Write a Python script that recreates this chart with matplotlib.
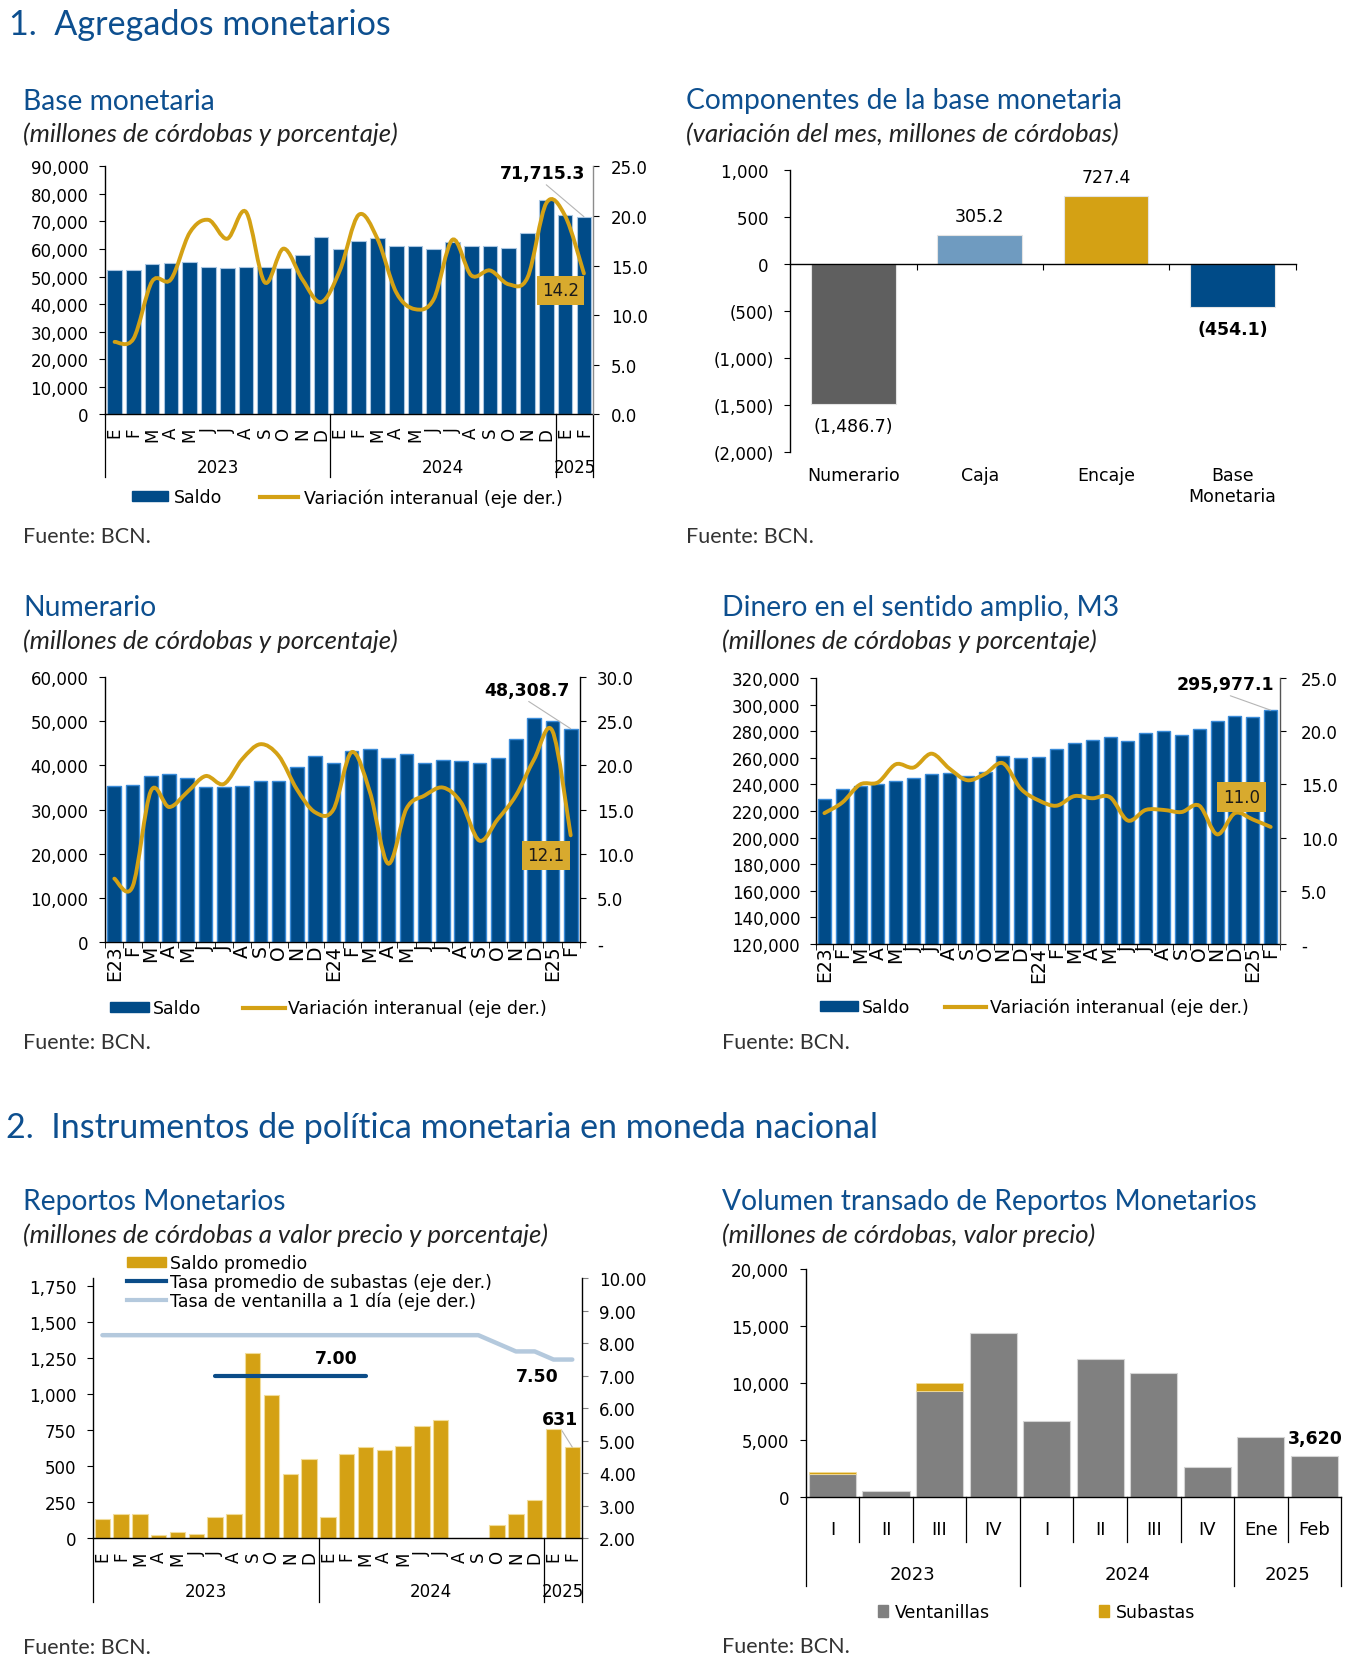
import numpy as np
import matplotlib
matplotlib.use("Agg")
import matplotlib.pyplot as plt
import matplotlib.ticker as ticker
from matplotlib.path import Path
from matplotlib.patches import PathPatch, Patch
from matplotlib.lines import Line2D

# ---------------- data ----------------
months = ['E', 'F', 'M', 'A', 'M', 'J', 'J', 'A', 'S', 'O', 'N', 'D']
month_labels = months + months + ['E', 'F']
month_labels_yr = ['E23'] + months[1:] + ['E24'] + months[1:] + ['E25', 'F']
years = ['2023', '2024', '2025']

base_saldo = [52500, 52300, 54400, 54800, 55400, 53500, 53100, 53500, 53500, 53200,
              57800, 64300, 60000, 62900, 64000, 61100, 61100, 60000, 62400, 61000,
              61100, 60200, 65700, 77700, 72200, 71715.3]
base_var = [7.3, 7.6, 13.4, 13.6, 18.3, 19.6, 17.7, 20.4, 13.3, 16.7, 13.6, 11.3, 14.5,
            20.1, 17.7, 12.3, 10.6, 11.6, 17.6, 14.0, 14.5, 13.1, 13.8, 21.3, 20.0, 14.2]

comp_cats = ['Numerario', 'Caja', 'Encaje', 'Base\nMonetaria']
comp_vals = [-1486.7, 305.2, 727.4, -454.1]
comp_labels = ['(1,486.7)', '305.2', '727.4', '(454.1)']

num_saldo = [35300, 35600, 37500, 38100, 37200, 35100, 35100, 35400, 36400, 36500,
             39700, 42200, 40500, 43200, 43800, 41600, 42600, 40600, 41200, 41100,
             40500, 41600, 46000, 50700, 50000, 48308.7]
num_var = [7.2, 6.3, 17.1, 15.3, 17.0, 18.8, 17.9, 20.7, 22.4, 21.1, 17.3, 14.7, 15.0,
           21.5, 17.0, 8.9, 15.1, 16.6, 17.5, 15.8, 11.5, 13.9, 16.6, 20.7, 23.9, 12.1]

m3_saldo = [229300, 236300, 238600, 240600, 242600, 244900, 247600, 248900, 246600, 249600,
            261200, 259900, 260500, 266700, 271000, 273800, 276000, 273000, 278500, 280000,
            277500, 281600, 288100, 291400, 290900, 295977.1]
m3_var = [12.3, 13.3, 15.0, 15.2, 16.9, 16.6, 17.9, 16.5, 15.4, 16.0, 17.0, 14.6, 13.5,
          13.0, 13.9, 13.7, 13.8, 11.6, 12.6, 12.6, 12.4, 13.0, 10.3, 12.3, 11.7, 11.0]

rep_saldo = [135, 168, 166, 23, 44, 28, 150, 166, 1285, 992, 442, 548, 150, 587, 635,
             608, 642, 778, 820, 5, 0, 92, 170, 265, 755, 631]
nan = np.nan
rep_subasta = [nan, nan, nan, nan, nan, nan, 7.00, 7.00, 7.00, 7.00, 7.00, 7.00, 7.00,
               7.00, 7.00, nan, nan, nan, nan, nan, nan, nan, nan, nan, nan, nan]
rep_ventanilla = [8.25, 8.25, 8.25, 8.25, 8.25, 8.25, 8.25, 8.25, 8.25, 8.25, 8.25, 8.25,
                  8.25, 8.25, 8.25, 8.25, 8.25, 8.25, 8.25, 8.25, 8.25, 8.00, 7.75, 7.75,
                  7.50, 7.50]

vol_cats = ['I', 'II', 'III', 'IV', 'I', 'II', 'III', 'IV', 'Ene', 'Feb']
vol_years = ['2023', '2024', '2025']
vol_ventanillas = [2040, 560, 9290, 14370, 6660, 12090, 10890, 2690, 5310, 3620]
vol_subastas = [150, 0, 730, 0, 0, 0, 0, 0, 0, 0]

# ---------------- style ----------------
W, H = 1369, 1674
BLUE = '#004b88'
GOLD = '#d4a114'
BOX = '#d8aa2e'
TITLE = '#0d4f8f'
HEAD = 'Lato'

plt.rcParams['font.family'] = 'DejaVu Sans'
plt.rcParams['font.size'] = 12
plt.rcParams['axes.linewidth'] = 1.0

fig = plt.figure(figsize=(W / 100, H / 100), dpi=100)


def add_ax(box):
    x0, y0, x1, y1 = box
    return fig.add_axes([x0 / W, 1 - y1 / H, (x1 - x0) / W, (y1 - y0) / H])


def ftext(x, y, s, **kw):
    return fig.text(x / W, 1 - y / H, s, **kw)


def fy(box, ypx):
    # pixel row -> axes fraction
    return (box[3] - ypx) / (box[3] - box[1])


def smooth_path(xs, ys):
    # excel-like smoothed line through the points (catmull-rom as bezier)
    pts = np.column_stack([xs, ys]).astype(float)
    n = len(pts)
    verts = [pts[0]]
    codes = [Path.MOVETO]
    for i in range(n - 1):
        p0 = pts[i - 1] if i > 0 else pts[i]
        p1, p2 = pts[i], pts[i + 1]
        p3 = pts[i + 2] if i + 2 < n else pts[i + 1]
        verts += [p1 + (p2 - p0) / 6, p2 - (p3 - p1) / 6, p2]
        codes += [Path.CURVE4] * 3
    return Path(verts, codes)


def thousands(v, pos):
    return f'{v:,.0f}'


def paren(v, pos):
    if v < 0:
        return f'({-v:,.0f})'
    return f'{v:,.0f} '


def dash1(v, pos):
    return '-' if abs(v) < 1e-9 else f'{v:.1f}'


def legend_item(handle, label, x, y, hl, pad, hh=0.5, fs=12.5):
    fig.legend([handle], [label], loc='center left', bbox_to_anchor=(x / W, 1 - y / H),
               frameon=False, borderpad=0, borderaxespad=0, handlelength=hl,
               handletextpad=pad, handleheight=hh, fontsize=fs)


def year_axis(ax, box, seps, groups, label_y, sep_y):
    trans = ax.get_xaxis_transform()
    for s in seps:
        ax.plot([s, s], [0, fy(box, sep_y)], transform=trans, color='black', lw=0.9,
                clip_on=False, scalex=False, scaley=False)
    for cx, lab in groups:
        ax.text(cx, fy(box, label_y), lab, transform=trans, ha='center', va='center',
                fontsize=12)


def left_style(ax):
    ax.spines['top'].set_visible(False)
    ax.spines['right'].set_visible(False)
    ax.tick_params(axis='y', direction='out', length=4.5, pad=7.5, labelsize=12)


def right_style(axr, color='black'):
    for s in ['top', 'left', 'bottom']:
        axr.spines[s].set_visible(False)
    axr.spines['right'].set_color(color)
    axr.tick_params(axis='y', direction='out', length=4.5, pad=8, labelsize=12)


def titles(x, y, title, sub):
    ftext(x, y, title, family=HEAD, fontsize=20.3, color=TITLE, va='center')
    ftext(x, y + 33, sub, family=HEAD, fontsize=18.5, style='italic', color='#222222',
          va='center')


def fuente(x, y):
    ftext(x, y, 'Fuente: BCN.', family=HEAD, fontsize=15.5, color='#333333', va='center')


# ---------------- headings ----------------
ftext(9, 25, '1.  Agregados monetarios', family=HEAD, fontsize=24.6, color=TITLE, va='center')
ftext(6, 1128, '2.  Instrumentos de política monetaria en moneda nacional', family=HEAD,
      fontsize=24.5, color=TITLE, va='center')

xm = np.arange(len(base_saldo))

# ---------------- 1. Base monetaria ----------------
P1 = (105.2, 167.3, 593.3, 415.3)
titles(23, 101.5, 'Base monetaria', '(millones de córdobas y porcentaje)')
ax1 = add_ax(P1)
ax1.bar(xm, base_saldo, 0.78, color=BLUE, edgecolor='#a9c6e2', linewidth=0.8)
ax1.set_xlim(-0.5, 25.5)
ax1.set_ylim(0, 90000)
ax1.yaxis.set_major_locator(ticker.MultipleLocator(10000))
ax1.yaxis.set_major_formatter(ticker.FuncFormatter(thousands))
ax1.set_xticks(xm)
ax1.set_xticklabels(month_labels, rotation=90)
ax1.tick_params(axis='x', length=0, pad=9, labelsize=12)
left_style(ax1)
year_axis(ax1, P1, [-0.5, 11.5, 23.5, 25.5], [(5.5, years[0]), (17.5, years[1]), (24.5, years[2])],
          467.7, 478.3)
ax1r = ax1.twinx()
ax1r.set_ylim(0, 25)
ax1r.yaxis.set_major_locator(ticker.MultipleLocator(5))
ax1r.yaxis.set_major_formatter(ticker.FormatStrFormatter('%.1f'))
right_style(ax1r, '#8c8c8c')
ax1r.add_patch(PathPatch(smooth_path(xm, base_var), fill=False, edgecolor=GOLD, lw=2.8,
                         capstyle='round'))
ax1r.set_ylim(0, 25)
ax1.annotate('71,715.3', xy=(25, base_saldo[-1]), xycoords='data', xytext=(543, H - 174),
             textcoords='figure pixels', ha='center', va='center', fontweight='bold',
             fontsize=12.5, arrowprops=dict(arrowstyle='-', color='#b5b5b5', lw=0.8,
                                            shrinkA=0, shrinkB=0, relpos=(0.5, 0)))
ftext(560.5, 291.5, '14.2', ha='center', va='center', fontsize=12, color='#1a1a1a',
      bbox=dict(boxstyle='square,pad=0.32', fc=BOX, ec='none'))
legend_item(Patch(color=BLUE), 'Saldo', 132, 498.3, 2.07, 0.32)
legend_item(Line2D([0], [0], color=GOLD, lw=3), 'Variación interanual (eje der.)', 260, 498.3,
            2.2, 0.32)
fuente(23, 537)

# ---------------- 2. Componentes ----------------
P2 = (790.2, 171, 1295.5, 452.7)
titles(686.5, 101.5, 'Componentes de la base monetaria',
       '(variación del mes, millones de córdobas)')
ax2 = add_ax(P2)
xc = np.arange(len(comp_vals))
ax2.bar(xc, comp_vals, 0.67, color=['#5f5f5f', '#6f9bc0', GOLD, BLUE], edgecolor='#e4e4e4',
        linewidth=0.8)
ax2.set_xlim(-0.5, 3.5)
ax2.set_ylim(-2000, 1000)
ax2.spines['bottom'].set_position(('data', 0))
left_style(ax2)
ax2.yaxis.set_major_locator(ticker.MultipleLocator(500))
ax2.yaxis.set_major_formatter(ticker.FuncFormatter(paren))
ax2.set_xticks([0.5, 1.5, 2.5, 3.5])
ax2.set_xticklabels([])
ax2.tick_params(axis='x', direction='out', length=4.5)
for i, c in enumerate(comp_cats):
    ax2.text(i, fy(P2, 467), c, transform=ax2.get_xaxis_transform(), ha='center', va='top',
             fontsize=12.5, linespacing=1.25)
for i, (v, lab) in enumerate(zip(comp_vals, comp_labels)):
    off = 19 if v > 0 else -22
    ax2.annotate(lab, xy=(i, v), xytext=(0, off), textcoords='offset pixels', ha='center',
                 va='center', fontsize=12.5, fontweight='bold' if i == 3 else 'normal')
fuente(686.5, 537)

# ---------------- 3. Numerario ----------------
P3 = (105.2, 678, 579.8, 943.3)
titles(23, 608.5, 'Numerario', '(millones de córdobas y porcentaje)')
ax3 = add_ax(P3)
ax3.bar(xm, num_saldo, 0.75, color=BLUE, edgecolor='#3a8bd8', linewidth=1.0)
ax3.set_xlim(-0.5, 25.5)
ax3.set_ylim(0, 60000)
ax3.yaxis.set_major_locator(ticker.MultipleLocator(10000))
ax3.yaxis.set_major_formatter(ticker.FuncFormatter(thousands))
ax3.set_xticks(xm)
ax3.set_xticklabels(month_labels_yr, rotation=90)
ax3.set_xticks(np.arange(-0.5, 26, 1), minor=True)
ax3.tick_params(axis='x', which='major', length=0, pad=1.5, labelsize=13.5)
ax3.tick_params(axis='x', which='minor', direction='out', length=4.5)
left_style(ax3)
ax3r = ax3.twinx()
right_style(ax3r)
ax3r.yaxis.set_major_locator(ticker.MultipleLocator(5))
ax3r.yaxis.set_major_formatter(ticker.FuncFormatter(dash1))
ax3r.add_patch(PathPatch(smooth_path(xm, num_var), fill=False, edgecolor=GOLD, lw=2.8,
                         capstyle='round'))
ax3r.set_ylim(0, 30)
ax3.annotate('48,308.7', xy=(25, num_saldo[-1]), xycoords='data', xytext=(527, H - 690.7),
             textcoords='figure pixels', ha='center', va='center', fontweight='bold',
             fontsize=12.5, arrowprops=dict(arrowstyle='-', color='#b5b5b5', lw=0.8,
                                            shrinkA=0, shrinkB=0, relpos=(0.47, 0)))
ftext(546, 856.4, '12.1', ha='center', va='center', fontsize=12, color='#1a1a1a',
      bbox=dict(boxstyle='square,pad=0.35', fc=BOX, ec='none'))
legend_item(Patch(color=BLUE), 'Saldo', 110, 1009, 2.24, 0.23)
legend_item(Line2D([0], [0], color=GOLD, lw=3), 'Variación interanual (eje der.)', 243, 1009,
            2.41, 0.17)
fuente(23, 1043)

# ---------------- 4. M3 ----------------
P4 = (815.5, 679.3, 1279.6, 944.7)
titles(721.7, 608.5, 'Dinero en el sentido amplio, M3', '(millones de córdobas y porcentaje)')
ax4 = add_ax(P4)
ax4.bar(xm, m3_saldo, 0.73, color=BLUE, edgecolor='#3a8bd8', linewidth=1.0)
ax4.set_xlim(-0.5, 25.5)
ax4.set_ylim(120000, 320000)
ax4.yaxis.set_major_locator(ticker.MultipleLocator(20000))
ax4.yaxis.set_major_formatter(ticker.FuncFormatter(thousands))
ax4.set_xticks(xm)
ax4.set_xticklabels(month_labels_yr, rotation=90)
ax4.set_xticks(np.arange(-0.5, 26, 1), minor=True)
ax4.tick_params(axis='x', which='major', length=0, pad=1.5, labelsize=13.5)
ax4.tick_params(axis='x', which='minor', direction='out', length=4.5)
left_style(ax4)
ax4.tick_params(axis='y', pad=6.5)
ax4r = ax4.twinx()
right_style(ax4r, '#555555')
ax4r.tick_params(axis='y', pad=11)
ax4r.yaxis.set_major_locator(ticker.MultipleLocator(5))
ax4r.yaxis.set_major_formatter(ticker.FuncFormatter(dash1))
ax4r.add_patch(PathPatch(smooth_path(xm, m3_var), fill=False, edgecolor=GOLD, lw=2.8,
                         capstyle='round'))
ax4r.set_ylim(0, 25)
ax4.annotate('295,977.1', xy=(25, m3_saldo[-1]), xycoords='data', xytext=(1225.5, H - 685),
             textcoords='figure pixels', ha='center', va='center', fontweight='bold',
             fontsize=12.5, arrowprops=dict(arrowstyle='-', color='#b5b5b5', lw=0.8,
                                            shrinkA=0, shrinkB=0, relpos=(0.47, 0)))
ftext(1241.3, 797.9, '11.0', ha='center', va='center', fontsize=12, color='#1a1a1a',
      bbox=dict(boxstyle='square,pad=0.35', fc=BOX, ec='none'))
legend_item(Patch(color=BLUE), 'Saldo', 819.6, 1008, 2.23, 0.23)
legend_item(Line2D([0], [0], color=GOLD, lw=3), 'Variación interanual (eje der.)', 945, 1008,
            2.34, 0.24)
fuente(722, 1043)

# ---------------- 5. Reportos ----------------
P5 = (93, 1279.3, 581.7, 1539.3)
titles(23, 1201.7, 'Reportos Monetarios',
       '(millones de córdobas a valor precio y porcentaje)')
ax5 = add_ax(P5)
ax5.bar(xm, rep_saldo, 0.82, color=GOLD, edgecolor='#f1dc9a', linewidth=0.8)
ax5.set_xlim(-0.5, 25.5)
ax5.set_ylim(0, 1800)
ax5.yaxis.set_major_locator(ticker.FixedLocator(np.arange(0, 1751, 250)))
ax5.yaxis.set_major_formatter(ticker.FuncFormatter(thousands))
ax5.set_xticks(xm)
ax5.set_xticklabels(month_labels, rotation=90)
ax5.tick_params(axis='x', length=0, pad=8.6, labelsize=12)
left_style(ax5)
year_axis(ax5, P5, [-0.5, 11.5, 23.5, 25.5], [(5.5, years[0]), (17.5, years[1]), (24.5, years[2])],
          1591.7, 1602.7)
ax5r = ax5.twinx()
right_style(ax5r)
ax5r.tick_params(axis='y', color='#808080')
ax5r.plot(xm, rep_ventanilla, color='#b4c9dd', lw=3.2, solid_capstyle='round')
ax5r.plot(xm, rep_subasta, color='#0b4c88', lw=3, solid_capstyle='round')
ax5r.set_ylim(2, 10)
ax5r.yaxis.set_major_locator(ticker.MultipleLocator(1))
ax5r.yaxis.set_major_formatter(ticker.FormatStrFormatter('%.2f'))
ftext(336.6, 1359.3, '7.00', ha='center', va='center', fontsize=12.5, fontweight='bold')
ftext(537.7, 1377.3, '7.50', ha='center', va='center', fontsize=12.5, fontweight='bold')
ax5.annotate('631', xy=(25, rep_saldo[-1]), xycoords='data', xytext=(560.3, H - 1420),
             textcoords='figure pixels', ha='center', va='center', fontweight='bold',
             fontsize=12.5, arrowprops=dict(arrowstyle='-', color='#b5b5b5', lw=0.8,
                                            shrinkA=0, shrinkB=0, relpos=(0.5, 0)))
legend_item(Patch(color=GOLD), 'Saldo promedio', 127.4, 1264, 2.2, 0.26)
legend_item(Line2D([0], [0], color='#0b4c88', lw=3), 'Tasa promedio de subastas (eje der.)',
            127.4, 1282.7, 2.2, 0.26)
legend_item(Line2D([0], [0], color='#b4c9dd', lw=3), 'Tasa de ventanilla a 1 día (eje der.)',
            127.4, 1301.7, 2.2, 0.26)
fuente(23, 1648)

# ---------------- 6. Volumen ----------------
P6 = (805.7, 1270, 1341.2, 1498.3)
titles(721.7, 1201.7, 'Volumen transado de Reportos Monetarios',
       '(millones de córdobas, valor precio)')
ax6 = add_ax(P6)
xv = np.arange(len(vol_cats))
ax6.bar(xv, vol_ventanillas, 0.88, color='#808080', edgecolor='#d4d4d4', linewidth=0.8)
sub = np.array(vol_subastas, dtype=float)
has_sub = sub > 0
ax6.bar(xv[has_sub], sub[has_sub], 0.88, bottom=np.array(vol_ventanillas)[has_sub],
        color=GOLD, edgecolor='#f1dc9a', linewidth=0.6)
ax6.set_xlim(-0.5, 9.5)
ax6.set_ylim(0, 20000)
ax6.yaxis.set_major_locator(ticker.MultipleLocator(5000))
ax6.yaxis.set_major_formatter(ticker.FuncFormatter(thousands))
ax6.set_xticks([])
left_style(ax6)
tr6 = ax6.get_xaxis_transform()
for s in [0.5, 1.5, 2.5, 4.5, 5.5, 6.5, 8.5]:
    ax6.plot([s, s], [0, fy(P6, 1543.3)], transform=tr6, color='black', lw=0.9,
             clip_on=False, scalex=False, scaley=False)
for s in [-0.5, 3.5, 7.5, 9.5]:
    ax6.plot([s, s], [0, fy(P6, 1586.7)], transform=tr6, color='black', lw=0.9,
             clip_on=False, scalex=False, scaley=False)
for i, c in enumerate(vol_cats):
    ax6.text(i, fy(P6, 1530), c, transform=tr6, ha='center', va='center', fontsize=13)
for cx, lab in zip([1.5, 5.5, 8.5], vol_years):
    ax6.text(cx, fy(P6, 1575), lab, transform=tr6, ha='center', va='center', fontsize=13)
ax6.annotate('3,620', xy=(9, vol_ventanillas[-1]), xytext=(1315, H - 1439.3),
             textcoords='figure pixels', ha='center', va='center', fontsize=12.5,
             fontweight='bold')
legend_item(Patch(color='#808080'), 'Ventanillas', 878, 1613, 0.6, 0.38, hh=0.7)
legend_item(Patch(color=GOLD), 'Subastas', 1098.8, 1613, 0.6, 0.38, hh=0.7)
fuente(722, 1647)

fig.savefig('out.png', dpi=100, facecolor='white')
